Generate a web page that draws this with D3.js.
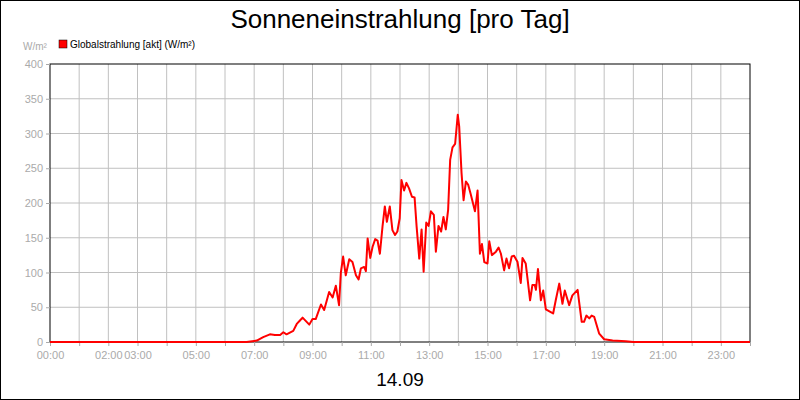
<!DOCTYPE html>
<html><head><meta charset="utf-8">
<script src="https://cdn.jsdelivr.net/npm/d3@7"></script>
<style>body{margin:0;background:#fff}svg{display:block;font-family:"Liberation Sans",Arial,sans-serif}</style>
</head><body><svg id="c" width="800" height="400"></svg>
<script>
const hours=[0,6.74,7.09,7.31,7.54,7.71,7.89,8.0,8.11,8.34,8.46,8.57,8.66,8.89,9.0,9.11,9.29,9.4,9.57,9.69,9.8,9.91,9.97,10.05,10.14,10.26,10.37,10.49,10.58,10.66,10.77,10.83,10.89,10.98,11.06,11.15,11.23,11.31,11.4,11.48,11.55,11.65,11.74,11.83,11.91,11.99,12.05,12.14,12.22,12.31,12.41,12.5,12.57,12.66,12.74,12.81,12.9,12.98,13.06,13.16,13.23,13.32,13.41,13.49,13.57,13.65,13.72,13.8,13.89,13.98,14.03,14.11,14.18,14.26,14.34,14.43,14.57,14.66,14.74,14.81,14.89,15.0,15.06,15.15,15.29,15.38,15.46,15.57,15.65,15.74,15.83,15.91,16.03,16.14,16.2,16.31,16.46,16.54,16.62,16.66,16.73,16.83,16.91,17.0,17.17,17.25,17.34,17.46,17.57,17.65,17.8,17.91,18.09,18.14,18.23,18.31,18.39,18.49,18.57,18.66,18.83,19.0,19.29,19.74,20,24];
const values=[0,0,2,7,11,10,10,14,11,16,26,31,35,25,33,33,54,46,72,64,81,53,99,123,96,119,115,96,90,106,108,102,149,121,137,148,146,127,166,195,173,195,161,154,159,178,233,218,229,221,209,208,166,120,162,101,172,167,188,183,130,167,159,180,162,190,262,280,285,327,310,243,204,231,226,212,188,218,127,141,115,113,145,125,130,136,127,103,120,106,123,124,115,85,121,113,60,82,82,75,105,60,74,47,43,41,60,84,55,74,53,67,75,58,29,29,38,34,38,36,12,4,2,1,0,0];
const tickHours=[0,2,3,5,7,9,11,13,15,17,19,21,23];
const yTicks=[0,50,100,150,200,250,300,350,400];
const title="Sonneneinstrahlung [pro Tag]", seriesName="Globalstrahlung [akt] (W/m²)", unit="W/m²", dateLabel="14.09";

const svg=d3.select("#c");
const L=50,R=750,T=64,B=342;
const x=d3.scaleLinear().domain([0,24]).range([L,R]);
const y=d3.scaleLinear().domain([0,400]).range([B,T]);
svg.append("rect").attr("x",0.5).attr("y",0.5).attr("width",799).attr("height",399).attr("fill","#fff").attr("stroke","#000");
svg.append("text").attr("x",400).attr("y",28).attr("text-anchor","middle").attr("font-size",26).text(title);
svg.append("rect").attr("x",59).attr("y",40).attr("width",8).attr("height",8).attr("fill","#f00").attr("stroke","#000").attr("stroke-width",0.5);
svg.append("text").attr("x",70).attr("y",48).attr("font-size",10).text(seriesName);
svg.append("text").attr("x",23).attr("y",50).attr("font-size",10).attr("fill","#aaa").text(unit);
const g=svg.append("g");
g.selectAll(".vg").data(d3.range(1,24)).join("line").attr("x1",d=>x(d)).attr("x2",d=>x(d)).attr("y1",T).attr("y2",B).attr("stroke","#c0c0c0");
g.selectAll(".hg").data(yTicks.slice(1,-1)).join("line").attr("x1",L).attr("x2",R).attr("y1",d=>y(d)).attr("y2",d=>y(d)).attr("stroke","#c0c0c0");
svg.append("rect").attr("x",L).attr("y",T).attr("width",R-L).attr("height",B-T).attr("fill","none").attr("stroke","#000");
const ya=svg.append("g").attr("transform",`translate(${L},0)`).call(d3.axisLeft(y).tickValues(yTicks).tickSize(4).tickFormat(d3.format("d")));
ya.select(".domain").remove();
ya.selectAll("line").attr("stroke","#aaa");
ya.selectAll("text").attr("fill","#aaa").attr("font-size",11).attr("font-family","Liberation Sans, Arial");
const xa=svg.append("g").attr("transform",`translate(0,${B})`).call(d3.axisBottom(x).tickValues(d3.range(0,25)).tickSize(4).tickFormat(d=>tickHours.includes(d)?String(d).padStart(2,"0")+":00":""));
xa.select(".domain").remove();
xa.selectAll("line").attr("stroke","#aaa");
xa.selectAll("text").attr("fill","#aaa").attr("font-size",11).attr("font-family","Liberation Sans, Arial").attr("dy","0.9em");
svg.append("path").datum(hours.map((h,i)=>[h,values[i]])).attr("fill","none").attr("stroke","#f00").attr("stroke-width",2).attr("stroke-linejoin","round")
 .attr("d",d3.line().x(d=>x(d[0])).y(d=>y(d[1])));
svg.append("text").attr("x",400).attr("y",386).attr("text-anchor","middle").attr("font-size",19).text(dateLabel);
</script></body></html>
